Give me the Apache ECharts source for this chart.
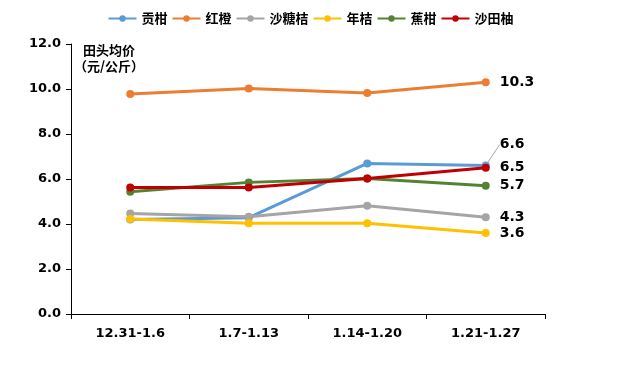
<!DOCTYPE html>
<html><head><meta charset="utf-8">
<script src="https://cdn.jsdelivr.net/npm/echarts@6/dist/echarts.min.js"></script>
<style>html,body{margin:0;padding:0;background:#fff}#c{width:621px;height:365px}</style>
</head><body><div id="c"></div>
<script>
var categories = ['12.31-1.6', '1.7-1.13', '1.14-1.20', '1.21-1.27'];
var gongGan = [4.2, 4.28, 6.69, 6.6];
var hongCheng = [9.78, 10.02, 9.82, 10.3];
var shaTangJu = [4.47, 4.32, 4.81, 4.3];
var nianJu = [4.22, 4.03, 4.03, 3.6];
var jiaoGan = [5.43, 5.85, 6.02, 5.7];
var shaTianYou = [5.62, 5.62, 6.02, 6.5];
var yTicks = [0, 2, 4, 6, 8, 10, 12];

var font = '"Noto Sans CJK SC", "DejaVu Sans", sans-serif';
function mk(name, data, color, leader) {
  var last = data.length - 1;
  var items = data.map(function (v, i) {
    return i === last ? { value: v, label: { show: true } } : v;
  });
  var s = {
    name: name, type: 'line', data: items,
    symbol: 'circle', symbolSize: 8,
    lineStyle: { width: 3, color: color },
    itemStyle: { color: color },
    emphasis: { disabled: true },
    label: {
      show: false, position: 'right', distance: 10,
      formatter: function (p) { return p.value.toFixed(1); },
      color: '#000', fontWeight: 'bold', fontSize: 14, fontFamily: '"DejaVu Sans", sans-serif'
    }
  };
  if (leader) {
    s.labelLayout = function (p) { return p.dataIndex === last ? { dy: -21, dx: 0 } : {}; };
    s.labelLine = { show: true, lineStyle: { color: '#A5A5A5', width: 1 } };
  }
  return s;
}
var chart = echarts.init(document.getElementById('c'));
chart.setOption({
  animation: false,
  color: ['#5B9BD5', '#ED7D31', '#A5A5A5', '#FFC000', '#548235', '#C00000'],
  legend: {
    top: 7, left: 'center', itemWidth: 28, itemHeight: 8, itemGap: 4,
    textStyle: { fontFamily: font, fontWeight: 'bold', fontSize: 13, color: '#000' },
    data: ['贡柑', '红橙', '沙糖桔', '年桔', '蕉柑', '沙田柚']
  },
  grid: { left: 71, right: 76, top: 44, bottom: 51 },
  graphic: [{
    type: 'text', x: 109, y: 42,
    style: { text: '田头均价\n（元/公斤）', font: 'bold 13px ' + font, fill: '#000', lineHeight: 16, align: 'center' }
  }],
  xAxis: {
    type: 'category', data: categories, boundaryGap: true,
    axisLine: { lineStyle: { color: '#000', width: 1 } },
    axisTick: { show: true, length: 5, lineStyle: { color: '#000' } },
    axisLabel: { color: '#000', fontWeight: 'bold', fontSize: 13, margin: 13, fontFamily: '"DejaVu Sans", sans-serif' }
  },
  yAxis: {
    type: 'value', min: yTicks[0], max: yTicks[yTicks.length - 1], interval: 2,
    axisLine: { show: true, lineStyle: { color: '#000', width: 1 } },
    axisTick: { show: true, length: 5, lineStyle: { color: '#000' } },
    splitLine: { show: false },
    axisLabel: { color: '#000', fontWeight: 'bold', fontSize: 13, margin: 10, fontFamily: '"DejaVu Sans", sans-serif',
      formatter: function (v) { return v.toFixed(1); } }
  },
  series: [
    mk('贡柑', gongGan, '#5B9BD5', true),
    mk('红橙', hongCheng, '#ED7D31'),
    mk('沙糖桔', shaTangJu, '#A5A5A5'),
    mk('年桔', nianJu, '#FFC000'),
    mk('蕉柑', jiaoGan, '#548235'),
    mk('沙田柚', shaTianYou, '#C00000')
  ]
});
</script></body></html>
